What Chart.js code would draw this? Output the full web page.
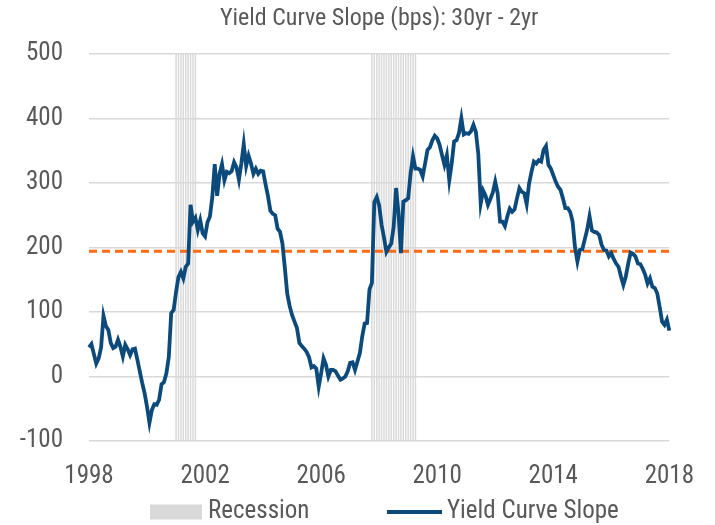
<!DOCTYPE html>
<html>
<head>
<meta charset="utf-8">
<title>Yield Curve Slope</title>
<script src="https://cdn.jsdelivr.net/npm/chart.js@4.4.1/dist/chart.umd.min.js"></script>
<style>
  html, body { margin: 0; padding: 0; background: #fff; }
  #wrap { width: 715px; height: 525px; }
</style>
</head>
<body>
<div id="wrap"><canvas id="slopeChart"></canvas></div>
<script>
// monthly observations, Mar 1998 .. Mar 2018 (bps)
const startYear = 1998;
const startMonth = 3;
const slopeBps = [
    45, 50, 35, 20, 28, 45, 94, 78, 72, 52, 44, 46,
    57, 46, 31, 49, 42, 33, 42, 43, 26, 8, -10, -26,
    -47, -72, -52, -43, -44, -36, -12, -9, 5, 30, 98, 103,
    131, 154, 162, 152, 170, 175, 266, 240, 246, 227, 242, 222,
    217, 239, 248, 278, 329, 280, 314, 329, 304, 317, 315, 318,
    332, 324, 305, 330, 360, 326, 342, 330, 314, 322, 314, 319,
    318, 298, 280, 257, 252, 250, 229, 224, 206, 168, 128, 109,
    95, 85, 75, 52, 47, 43, 38, 30, 14, 16, 12, -16,
    5, 28, 18, 0, 10, 10, 8, 1, -5, -3, 0, 8,
    21, 22, 10, 23, 36, 62, 82, 83, 135, 145, 270, 278,
    265, 235, 215, 193, 200, 206, 232, 292, 253, 191, 271, 273,
    276, 315, 341, 322, 322, 320, 310, 330, 351, 355, 366, 373,
    369, 359, 343, 328, 343, 304, 330, 364, 366, 377, 400, 375,
    377, 376, 380, 390, 379, 345, 268, 288, 280, 266, 275, 285,
    302, 284, 240, 240, 233, 248, 260, 255, 259, 276, 292, 286,
    284, 267, 299, 317, 333, 330, 335, 333, 351, 357, 328, 322,
    312, 302, 294, 289, 276, 261, 261, 255, 240, 200, 178, 196,
    197, 212, 227, 248, 226, 224, 223, 219, 204, 196, 195, 186,
    191, 182, 175, 170, 155, 142, 155, 175, 192, 190, 186, 175,
    174, 167, 158, 144, 152, 139, 137, 129, 108, 85, 80, 88,
    71
];
const averageBps = 194;
const recessionStart = ['2001-03', '2007-12'];
const recessionEnd = ['2001-11', '2009-06'];
const tickYears = ['1998', '2002', '2006', '2010', '2014', '2018'];
const tickEvery = 48;

const FONT = "'Roboto Condensed', 'Liberation Sans Narrow', 'Arial Narrow', 'DejaVu Sans Condensed', sans-serif";
const TEXT = '#595959';
const NAVY = '#0c4a7b';
const ORANGE = '#ff6a13';
const GREY = '#d9d9d9';

// month labels
var months = [];
for (let i = 0; i < slopeBps.length; i++) {
    let m = startMonth - 1 + i;
    let y = startYear + Math.floor(m / 12);
    months.push(y + '-' + String(m % 12 + 1).padStart(2, '0'));
}

var recessionBars = months.map((m) => {
    for (let k = 0; k < recessionStart.length; k++) {
        if (m >= recessionStart[k] && m <= recessionEnd[k]) return [-100, 500];
    }
    return null;
});

var avgLine = months.map((m, i) => (i === 0 || i === months.length - 1) ? averageBps : null);

// legend row drawn under the axis, Excel style
const legendRow = {
    id: 'legendRow',
    afterDraw(chart) {
        const ctx = chart.ctx;
        const y = chart.height - 13;
        ctx.save();
        ctx.font = '25px ' + FONT;
        ctx.textBaseline = 'middle';
        ctx.fillStyle = TEXT;
        const t1 = 'Recession', t2 = 'Yield Curve Slope';
        let x = 150;
        ctx.fillStyle = GREY;
        ctx.fillRect(x, y - 7.5, 52, 15);
        x += 58;
        ctx.fillStyle = TEXT;
        ctx.fillText(t1, x, y);
        x = 387;
        ctx.strokeStyle = NAVY;
        ctx.lineWidth = 4;
        ctx.beginPath();
        ctx.moveTo(x, y);
        ctx.lineTo(x + 55, y);
        ctx.stroke();
        x += 60;
        ctx.fillText(t2, x, y);
        ctx.restore();
    }
};

Chart.defaults.font.family = FONT;
Chart.defaults.color = TEXT;

new Chart(document.getElementById('slopeChart'), {
    data: {
        labels: months,
        datasets: [{
            type: 'line',
            label: 'Yield Curve Slope',
            data: slopeBps,
            borderColor: NAVY,
            borderWidth: 3.8,
            pointRadius: 0,
            tension: 0,
            order: 0
        }, {
            type: 'line',
            label: 'Average',
            data: avgLine,
            borderColor: ORANGE,
            borderWidth: 3,
            borderDash: [8, 5],
            pointRadius: 0,
            spanGaps: true,
            order: 1
        }, {
            type: 'bar',
            label: 'Recession',
            data: recessionBars,
            backgroundColor: GREY,
            barPercentage: 0.6,
            categoryPercentage: 1,
            order: 2
        }]
    },
    options: {
        responsive: true,
        maintainAspectRatio: false,
        animation: false,
        layout: {
            padding: { left: 0, right: 40, top: 0, bottom: 30 }
        },
        plugins: {
            legend: { display: false },
            tooltip: { enabled: false },
            title: {
                display: true,
                text: 'Yield Curve Slope (bps): 30yr - 2yr',
                fullSize: false,
                color: TEXT,
                font: { size: 24, weight: 'normal' },
                padding: { top: 5, bottom: 20 }
            }
        },
        scales: {
            x: {
                type: 'category',
                offset: false,
                grid: { display: false, drawTicks: false },
                border: { display: false },
                ticks: {
                    autoSkip: false,
                    maxRotation: 0,
                    padding: 21,
                    font: { size: 25 },
                    callback: function (value, index) {
                        return index % tickEvery === 0 ? tickYears[index / tickEvery] : null;
                    }
                },
                afterFit: function (scale) { scale.height = 54; }
            },
            y: {
                min: -100,
                max: 500,
                ticks: { stepSize: 100, padding: 26, font: { size: 25 } },
                grid: { color: GREY, lineWidth: 1.5, drawTicks: false },
                border: { display: false },
                afterFit: function (scale) { scale.width = 89; }
            }
        }
    },
    plugins: [legendRow]
});
</script>
</body>
</html>
